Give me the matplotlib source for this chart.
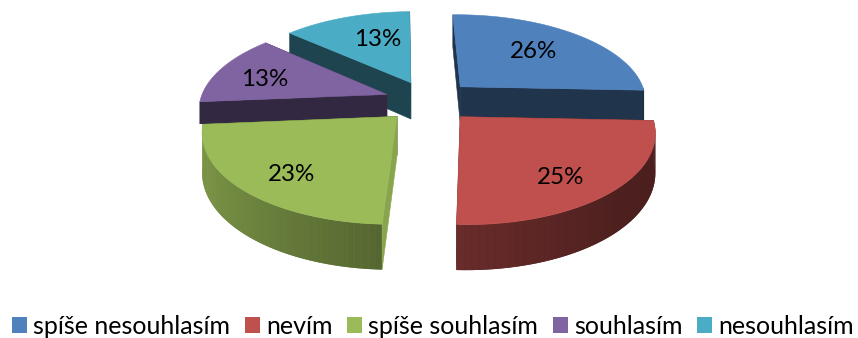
import numpy as np
import matplotlib
matplotlib.use("Agg")
import matplotlib.pyplot as plt
from matplotlib.collections import PolyCollection
from matplotlib.colors import to_rgb
from matplotlib.patches import Patch, Polygon, Rectangle

categories = ["spíše nesouhlasím", "nevím", "spíše souhlasím", "souhlasím", "nesouhlasím"]
shares = [26, 25, 23, 13, 13]
colors = ["#4F81BD", "#C0504D", "#9BBB59", "#8064A2", "#4BACC6"]

# Camera model of the tilted, exploded pie
START_ANGLE = -1.25
EXPLODE = 0.24
CX, CY = 429.0, 101.0
SCALE_X, SCALE_Y = 187.0, 86.7
PERSPECTIVE = 0.149
THICKNESS = 37.5
LABEL_SHIFT_X = [0.44, 0.463, -0.488, -0.692, -0.206]
LABEL_SHIFT_Y = [0.49, -0.582, -0.556, 0.214, 0.611]
LABEL_DROP = 2.2
START_WALL_SHADE = [0.40, 0.40, 0.88, 0.40, 0.40]
END_WALL_SHADE = 0.40
DRAW_ORDER = [4, 0, 3, 2, 1]
BACK_ROW_FLOOR = 124.0  # back-row walls stop where the front row begins

FONT = "Lato"
LABEL_SIZE = 17.4
LEGEND_SIZE = 18.0


def project(x, y, lowered=False):
    x, y = np.asarray(x, float), np.asarray(y, float)
    s = 1.0 / (1.0 + PERSPECTIVE * y)
    sx = CX + SCALE_X * x * s
    sy = CY - SCALE_Y * y * s
    if lowered:
        sy = sy + THICKNESS * s
    return np.column_stack([sx, sy])


def rim_shade(angle):
    # Side lighting comes from the left; the right-hand rim falls into shadow
    return np.interp(angle, [90, 135, 183, 225, 270], [0.38, 0.40, 0.55, 0.72, 0.88])


def shaded(color, factor):
    return tuple(c * factor for c in to_rgb(color))


def radial_wall(ox, oy, ex, ey, fc):
    xs, ys = [ox, ex], [oy, ey]
    quad = np.vstack([project(xs, ys), project(xs[::-1], ys[::-1], lowered=True)])
    patch = Polygon(quad, closed=True, fc=fc, ec=fc, lw=0.4, zorder=1)
    ax.add_patch(patch)
    return patch


fig = plt.figure(figsize=(8.58, 3.38), dpi=100)
ax = fig.add_axes([0, 0, 1, 1])
ax.set_xlim(0, 858)
ax.set_ylim(338, 0)
ax.axis("off")

edges = START_ANGLE + np.concatenate([[0], np.cumsum(shares)]) * 360.0 / sum(shares)

for i in DRAW_ORDER:
    a0, a1 = edges[i], edges[i + 1]
    mid = np.radians((a0 + a1) / 2)
    ox, oy = EXPLODE * np.sin(mid), EXPLODE * np.cos(mid)
    ang = np.linspace(a0, a1, 90)
    rx = ox + np.sin(np.radians(ang))
    ry = oy + np.cos(np.radians(ang))
    color = colors[i]

    # Closing wall goes under the rim, opening wall over it
    radial_wall(ox, oy, rx[-1], ry[-1], shaded(color, END_WALL_SHADE))

    # Outer rim, only where it faces the viewer
    lo, hi = max(a0, 90.0), min(a1, 270.0)
    if hi > lo and i != 3:
        rim_ang = np.linspace(lo, hi, 48)
        wx = ox + np.sin(np.radians(rim_ang))
        wy = oy + np.cos(np.radians(rim_ang))
        upper, lower = project(wx, wy), project(wx, wy, lowered=True)
        base = shaded(color, float(np.mean(rim_shade(rim_ang))))
        ax.add_patch(Polygon(np.vstack([upper, lower[::-1]]), closed=True, fc=base, ec="none", zorder=1))
        quads = [np.array([upper[k], upper[k + 1], lower[k + 1], lower[k]]) for k in range(len(rim_ang) - 1)]
        fcs = [shaded(color, rim_shade((rim_ang[k] + rim_ang[k + 1]) / 2)) for k in range(len(rim_ang) - 1)]
        ax.add_collection(PolyCollection(quads, facecolors=fcs, edgecolors="none", linewidths=0, zorder=1))

    wall = radial_wall(ox, oy, rx[0], ry[0], shaded(color, START_WALL_SHADE[i]))
    if i == 3:
        wall.set_clip_path(Rectangle((0, 0), 858, BACK_ROW_FLOOR, transform=ax.transData))

    # Top face
    outline = np.vstack([project([ox], [oy]), project(rx, ry)])
    ax.add_patch(Polygon(outline, closed=True, fc=color, ec=color, lw=0.4, zorder=1))

    # Percentage label
    px = project([ox + LABEL_SHIFT_X[i]], [oy + LABEL_SHIFT_Y[i]])[0]
    ax.text(px[0], px[1] + LABEL_DROP, f"{shares[i]}%", ha="center", va="center",
            fontsize=LABEL_SIZE, family=FONT, color="black", zorder=5)

handles = [Patch(fc=c, ec="none", label=n) for c, n in zip(colors, categories)]
ax.legend(handles=handles, ncol=5, loc="lower center", bbox_to_anchor=(0.5049, -0.014),
          frameon=False, prop={"family": FONT, "size": LEGEND_SIZE},
          handlelength=0.6, handleheight=0.6, handletextpad=0.24, columnspacing=0.59,
          borderpad=0.2, borderaxespad=0.0)

fig.savefig("out.png", dpi=100)
